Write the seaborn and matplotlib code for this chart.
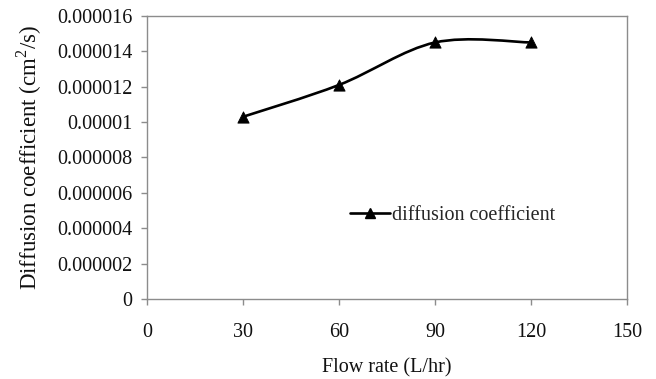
import numpy as np
import pandas as pd
import seaborn as sns
import matplotlib
matplotlib.use("Agg")
import matplotlib.pyplot as plt
from matplotlib.path import Path
from matplotlib.patches import PathPatch
from matplotlib.lines import Line2D

flow_rate = [30, 60, 90, 120]
diffusion = [0.0000103, 0.0000121, 0.0000145, 0.0000145]
x_ticks = [0, 30, 60, 90, 120, 150]
y_ticks = [0, 0.000002, 0.000004, 0.000006, 0.000008, 0.00001, 0.000012, 0.000014, 0.000016]
y_tick_labels = ["0", "0.000002", "0.000004", "0.000006", "0.000008", "0.00001",
                 "0.000012", "0.000014", "0.000016"]
series_name = "diffusion coefficient"

sns.set_theme(style="white")
plt.rcParams['font.family'] = ['Liberation Serif', 'DejaVu Serif']
plt.rcParams['mathtext.fontset'] = 'custom'
plt.rcParams['mathtext.rm'] = 'Liberation Serif'

FS = 14.5
fig = plt.figure(figsize=(6.56, 3.79), dpi=100)
ax = fig.add_axes([0.224, 0.211, 0.732, 0.747])

df = pd.DataFrame({"x": flow_rate, "y": diffusion})

# smooth curve (Excel-like smoothed line) through the data via cubic Bezier segments
pts = np.column_stack([df["x"].values, df["y"].values]).astype(float)
n = len(pts)
verts = [tuple(pts[0])]
codes = [Path.MOVETO]
for i in range(n - 1):
    p0 = pts[i - 1] if i > 0 else pts[i]
    p1 = pts[i]
    p2 = pts[i + 1]
    p3 = pts[i + 2] if i + 2 < n else pts[i + 1]
    c1 = p1 + (p2 - p0) / 6.0
    c2 = p2 - (p3 - p1) / 6.0
    verts += [tuple(c1), tuple(c2), tuple(p2)]
    codes += [Path.CURVE4] * 3
ax.add_patch(PathPatch(Path(verts, codes), fill=False, edgecolor="black", lw=1.9, zorder=2))

sns.scatterplot(data=df, x="x", y="y", marker="^", s=65, color="black",
                edgecolor="black", ax=ax, zorder=3, legend=False)

ax.set_xlim(0, 150)
ax.set_ylim(0, 0.000016)
ax.set_xticks(x_ticks)
ax.set_xticklabels([str(v) for v in x_ticks])
ax.set_yticks(y_ticks)
ax.set_yticklabels(y_tick_labels)

for s in ax.spines.values():
    s.set_color("#8c8c8c")
    s.set_linewidth(1.0)
ax.tick_params(axis="both", which="major", direction="out", length=4, width=1,
               color="#8c8c8c", labelsize=FS, labelcolor="#111111", pad=6.5,
               bottom=True, left=True)
ax.tick_params(axis="x", pad=13)

ax.set_xlabel("Flow rate (L/hr)", fontsize=FS, color="#111111", labelpad=12)
ax.set_ylabel(r"Diffusion coefficient (cm$^2$/s)", fontsize=16.5, color="#111111", labelpad=9)

handle = Line2D([0], [0], color="black", lw=1.9, marker="^", markersize=7.5)
ax.legend([handle], [series_name], loc="center left", bbox_to_anchor=(0.385, 0.295),
          frameon=False, fontsize=FS, handlelength=2.0, handletextpad=0.1)

fig.savefig("out.png", dpi=100)
